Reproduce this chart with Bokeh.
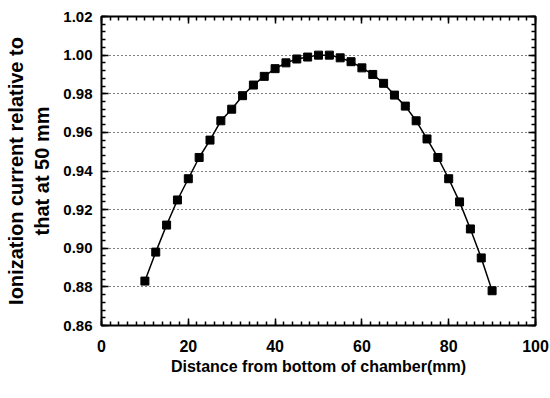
from bokeh.plotting import figure
from bokeh.models import LinearAxis, Range1d, FixedTicker, NumeralTickFormatter, CustomJSTickFormatter
from bokeh.embed import file_html
from bokeh.resources import INLINE

distance_mm = [10, 12.5, 15, 17.5, 20, 22.5, 25, 27.5, 30, 32.5, 35, 37.5, 40, 42.5,
               45, 47.5, 50, 52.5, 55, 57.5, 60, 62.5, 65, 67.5, 70, 72.5, 75, 77.5,
               80, 82.5, 85, 87.5, 90]
relative_current = [0.883, 0.898, 0.912, 0.925, 0.936, 0.947, 0.956, 0.966, 0.972, 0.979,
                    0.9845, 0.989, 0.993, 0.996, 0.998, 0.999, 1.000, 1.000, 0.9986,
                    0.9966, 0.9934, 0.990, 0.9854, 0.9793, 0.9736, 0.966, 0.9566, 0.947,
                    0.936, 0.924, 0.910, 0.895, 0.878]
x_ticks = [0, 20, 40, 60, 80, 100]
y_ticks = [0.86, 0.88, 0.90, 0.92, 0.94, 0.96, 0.98, 1.00, 1.02]
y_grid = [0.88, 0.90, 0.92, 0.94, 0.96, 0.98, 1.00]

FONT = "Liberation Sans"

p = figure(width=550, height=398, output_backend="svg", toolbar_location=None,
           x_range=Range1d(0, 100), y_range=Range1d(0.86, 1.02),
           min_border_left=101, min_border_right=15, min_border_top=16, min_border_bottom=73)
p.background_fill_color = "white"
p.border_fill_color = "white"
p.outline_line_color = "black"
p.outline_line_width = 2

x_minor = [v for v in range(0, 101, 2)]
y_minor = [round(0.86 + 0.004 * i, 3) for i in range(41)]

def style_axis(ax, ticks, minor, show_labels, size="15px"):
    ax.ticker = FixedTicker(ticks=ticks, minor_ticks=minor)
    ax.axis_line_color = None
    ax.major_tick_in = 7
    ax.major_tick_out = 0
    ax.minor_tick_in = 4
    ax.minor_tick_out = 0
    ax.major_tick_line_width = 1.5
    ax.minor_tick_line_width = 1.5
    ax.major_tick_line_color = "black"
    ax.minor_tick_line_color = "black"
    if show_labels:
        ax.major_label_text_font = FONT
        ax.major_label_text_font_style = "bold"
        ax.major_label_text_font_size = size
        ax.major_label_text_color = "black"
    else:
        ax.formatter = CustomJSTickFormatter(code="return ''")
        ax.major_label_standoff = 0

xa = p.xaxis[0]
style_axis(xa, x_ticks, x_minor, True, "16px")
xa.major_label_standoff = 14
xa.axis_label = "Distance from bottom of chamber(mm)"
xa.axis_label_text_font = FONT
xa.axis_label_text_font_style = "bold"
xa.axis_label_text_font_size = "16px"
xa.axis_label_text_color = "black"
xa.axis_label_standoff = 3

ya = p.yaxis[0]
style_axis(ya, y_ticks, y_minor, True, "15px")
ya.formatter = NumeralTickFormatter(format="0.00")
ya.major_label_standoff = 9
ya.axis_label = "Ionization current relative to\nthat at 50 mm"
ya.axis_label_text_font = FONT
ya.axis_label_text_font_style = "bold"
ya.axis_label_text_font_size = "20px"
ya.axis_label_text_color = "black"
ya.axis_label_standoff = 7

top = LinearAxis()
style_axis(top, x_ticks, x_minor, False)
p.add_layout(top, "above")
right = LinearAxis()
style_axis(right, y_ticks, y_minor, False)
p.add_layout(right, "right")

p.xgrid.visible = False
p.ygrid.ticker = FixedTicker(ticks=y_grid)
p.ygrid.grid_line_color = "black"
p.ygrid.grid_line_dash = "1 3"
p.ygrid.grid_line_width = 1

p.line(distance_mm, relative_current, line_color="black", line_width=1.5)
p.scatter(distance_mm, relative_current, marker="square", size=8, fill_color="black",
          line_color="black")

open("out.html", "w").write(file_html(p, INLINE))
